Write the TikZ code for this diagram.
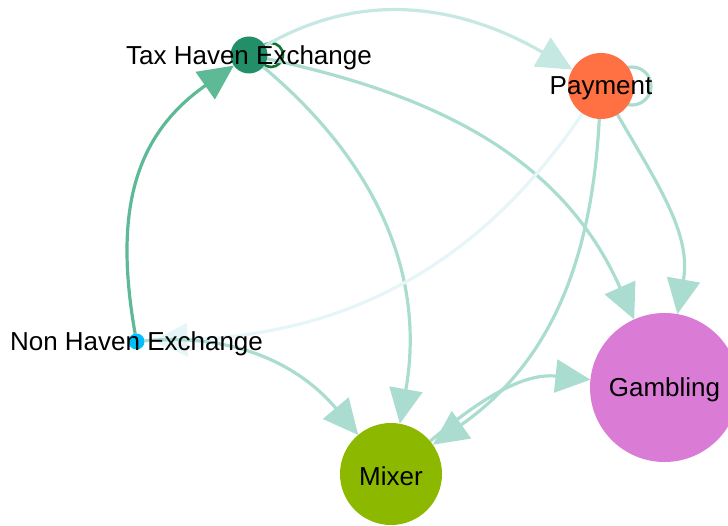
\documentclass[tikz,border=0pt]{standalone}
\usepackage{fontspec}
\setmainfont{Liberation Sans}
\usetikzlibrary{arrows.meta}
\definecolor{thc}{RGB}{35,143,105}
\definecolor{payc}{RGB}{255,112,67}
\definecolor{nhc}{RGB}{0,191,255}
\definecolor{mixc}{RGB}{140,185,0}
\definecolor{gamc}{RGB}{218,124,214}
\definecolor{edgec}{RGB}{170,221,208}
\definecolor{edgelt}{RGB}{198,232,226}
\definecolor{edgefaint}{RGB}{230,245,247}
\definecolor{edgedk}{RGB}{94,186,150}
\definecolor{loopdk}{RGB}{15,115,50}
\begin{document}
\begin{tikzpicture}[x=1pt,y=1pt,
  vtx/.style={circle,inner sep=0pt,outer sep=0pt,draw=none},
  lbl/.style={font=\fontsize{26}{28}\selectfont,text=black,inner sep=0pt,yshift=-2.5pt},
  conn/.style={line width=3.2pt,draw=edgec,-{Triangle[length=35pt,width=33pt]}},
]
\useasboundingbox (0,0) rectangle (728,525);
\clip (0,0) rectangle (728,525);
% nodes (y up: y = 525 - pixel y)
\node[vtx,minimum size=37pt] (th) at (249,470) {};
\node[vtx,minimum size=66pt] (pay) at (601,439) {};
\node[vtx,minimum size=16pt] (nh) at (136.5,183.5) {};
\node[vtx,minimum size=102pt] (mix) at (391,51) {};
\node[vtx,minimum size=149pt] (gam) at (664.5,137.5) {};
% self loops
\coordinate (thloop) at ([xshift=22pt]th.center);
\coordinate (payloop) at ([xshift=31pt]pay.center);
\draw[line width=2.6pt,draw=loopdk] (thloop) circle[radius=12pt];
\draw[line width=3.2pt,draw=edgec] (payloop) circle[radius=19pt];
% connectors
\draw[conn,draw=edgelt] (th) to[out=30,in=150] (pay);
\draw[conn] (th) to[out=-12,in=114] (gam);
\draw[conn] (th) to[out=-40,in=80] (mix);
\draw[conn,draw=edgefaint,shorten >=8pt] (pay) to[out=236,in=2] (nh);
\draw[conn] (pay) to[out=-60,in=80] (gam);
\draw[conn] (pay) to[out=-93,in=35] (mix);
\draw[conn] (nh) to[out=5,in=130] (mix);
\draw[conn] (mix) to[out=40,in=174] (gam);
\draw[conn,draw=edgedk] (nh) to[out=100,in=215,looseness=1.1] (th);
% node fills
\fill[thc] (th.center) circle[radius=18.5pt];
\fill[payc] (pay.center) circle[radius=33pt];
\fill[nhc] (nh.center) circle[radius=8pt];
\fill[mixc] (mix.center) circle[radius=51pt];
\fill[gamc] (gam.center) circle[radius=74.5pt];
% labels
\node[lbl] (thl) at (th.center) {Tax Haven Exchange};
\node[lbl] (payl) at (pay.center) {Payment};
\node[lbl] (nhl) at (nh.center) {Non Haven Exchange};
\node[lbl] (mixl) at (mix.center) {Mixer};
\node[lbl] (gaml) at (gam.center) {Gambling};
\end{tikzpicture}
\end{document}
